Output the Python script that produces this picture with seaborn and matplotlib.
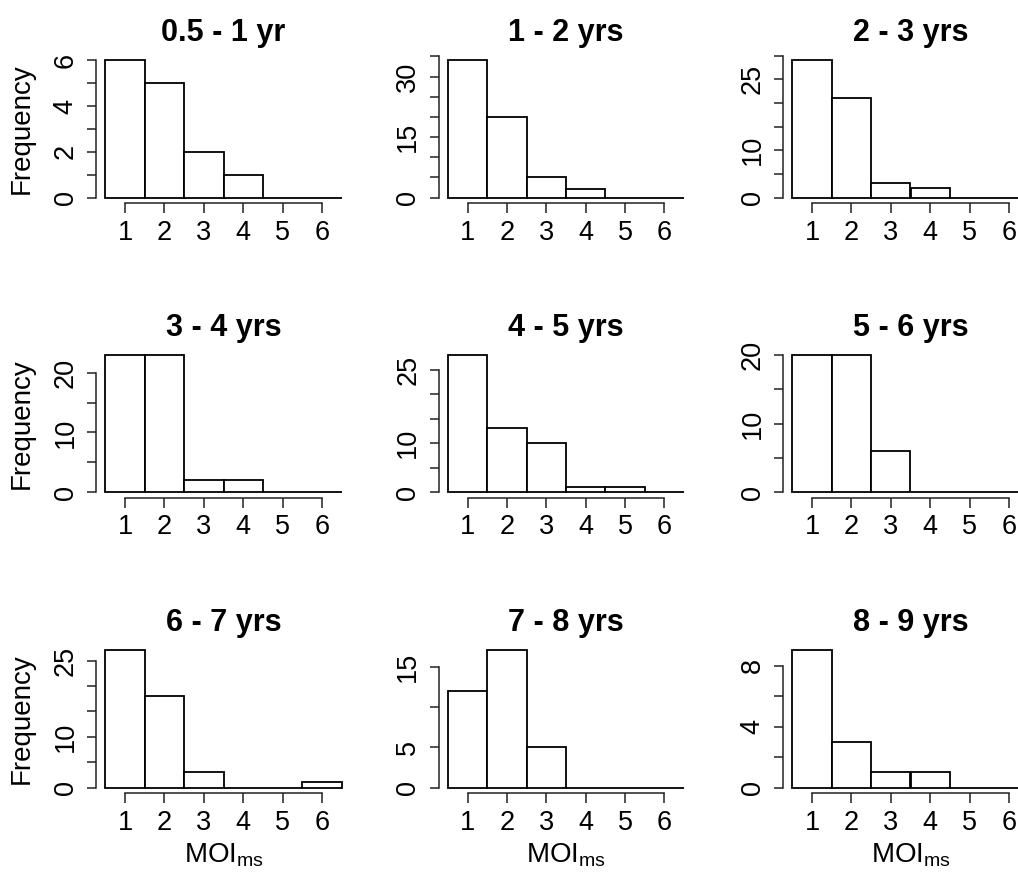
import numpy as np
import seaborn as sns
import matplotlib.pyplot as plt

# MOI classes on the x axis
moi = [1, 2, 3, 4, 5, 6]

titles = ["0.5 - 1 yr", "1 - 2 yrs", "2 - 3 yrs",
          "3 - 4 yrs", "4 - 5 yrs", "5 - 6 yrs",
          "6 - 7 yrs", "7 - 8 yrs", "8 - 9 yrs"]

# frequency per MOI class, one list per age group
freq_05_1 = [6, 5, 2, 1, 0, 0]
freq_1_2 = [34, 20, 5, 2, 0, 0]
freq_2_3 = [29, 21, 3, 2, 0, 0]
freq_3_4 = [23, 23, 2, 2, 0, 0]
freq_4_5 = [28, 13, 10, 1, 1, 0]
freq_5_6 = [20, 20, 6, 0, 0, 0]
freq_6_7 = [27, 18, 3, 0, 0, 1]
freq_7_8 = [12, 17, 5, 0, 0, 0]
freq_8_9 = [9, 3, 1, 1, 0, 0]

# y axis ticks (R style: ticks at every step, only some labelled)
y_step = [1, 5, 5, 5, 5, 5, 5, 5, 2]
y_top = [6, 35, 30, 20, 25, 20, 25, 15, 8]
y_labelled = [[0, 2, 4, 6], [0, 15, 30], [0, 10, 25],
              [0, 10, 20], [0, 10, 25], [0, 10, 20],
              [0, 10, 25], [0, 5, 15], [0, 4, 8]]

sns.set_style("white")
plt.rcParams["font.family"] = ["Liberation Sans", "DejaVu Sans"]
plt.rcParams["mathtext.fontset"] = "custom"
plt.rcParams["mathtext.rm"] = "Liberation Sans"
plt.rcParams["mathtext.it"] = "Liberation Sans:italic"
plt.rcParams["text.color"] = "black"
plt.rcParams["axes.labelcolor"] = "black"
plt.rcParams["xtick.labelcolor"] = "black"
plt.rcParams["ytick.labelcolor"] = "black"

W, H = 1018, 873
fig = plt.figure(figsize=(W / 100, H / 100), dpi=100)
fig.patch.set_facecolor("white")

col_left = [96, 438.5, 783]
row_top = [55, 349.5, 645]
pw, ph = 255, 148

freqs = [freq_05_1, freq_1_2, freq_2_3, freq_3_4, freq_4_5,
         freq_5_6, freq_6_7, freq_7_8, freq_8_9]

for i, (title, freq) in enumerate(zip(titles, freqs)):
    r, c = divmod(i, 3)
    ax = fig.add_axes([col_left[c] / W, 1 - (row_top[r] + ph) / H, pw / W, ph / H])
    ax.set_facecolor("white")

    sns.histplot(x=moi, weights=freq, discrete=True, ax=ax,
                 color="white", edgecolor="black", linewidth=1.3, alpha=1)

    ymax = max(freq)
    ax.set_xlim(0.26, 6.74)
    ax.set_ylim(-0.04 * ymax, 1.04 * ymax)

    for side in ["top", "right"]:
        ax.spines[side].set_visible(False)
    ax.spines["left"].set_bounds(0, y_top[i])
    ax.spines["bottom"].set_bounds(1, 6)
    for side in ["left", "bottom"]:
        ax.spines[side].set_linewidth(1.1)
        ax.spines[side].set_color("#222222")

    ax.set_xticks(moi)
    ax.set_xticklabels([str(v) for v in moi])
    yt = np.arange(0, y_top[i] + 1, y_step[i])
    ax.set_yticks(yt)
    ax.set_yticklabels([str(v) if v in y_labelled[i] else "" for v in yt],
                       rotation=90, va="center")
    ax.tick_params(axis="x", length=7, width=1.1, pad=5, labelsize=19.5,
                   color="#222222", labelcolor="black", bottom=True)
    ax.tick_params(axis="y", length=6.5, width=1.1, pad=6, labelsize=19.5,
                   color="#222222", labelcolor="black", left=True)

    ax.set_title(title, fontsize=22, fontweight="bold", pad=10, color="black")

    if c == 0:
        ax.set_ylabel("Frequency", fontsize=20, labelpad=13, color="black")
    else:
        ax.set_ylabel("")
    if r == 2:
        ax.set_xlabel(r"MOI$_{\mathrm{ms}}$", fontsize=20, labelpad=4,
                      color="black")
    else:
        ax.set_xlabel("")

fig.savefig("out.png", dpi=100)
